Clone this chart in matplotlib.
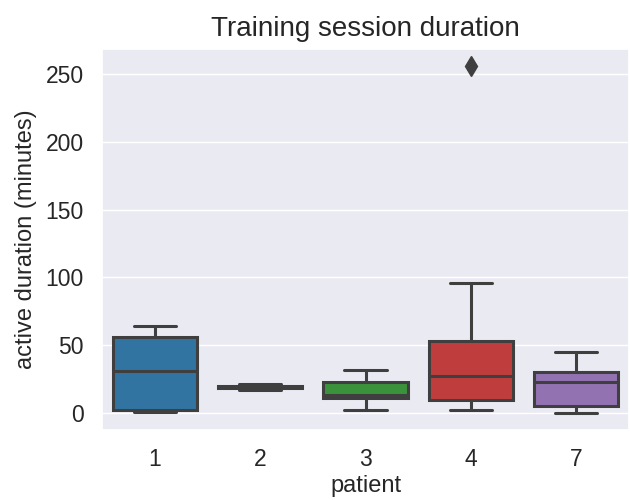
import matplotlib
matplotlib.use("Agg")
import matplotlib.pyplot as plt
import seaborn as sns

patients = ["1", "2", "3", "4", "7"]
whislo = [0.3, 17.0, 1.7, 1.7, 0.0]
q1 = [2.2, 18.3, 10.8, 9.6, 5.2]
med = [30.5, 19.0, 13.3, 27.3, 22.5]
q3 = [56.0, 20.0, 23.0, 53.3, 30.0]
whishi = [63.7, 21.0, 31.5, 95.9, 44.5]
fliers = [[], [], [], [256.0], []]
colors = ["#3274a1", "#e1812c", "#3a923a", "#c03d3e", "#9372b2"]

sns.set_theme(style="darkgrid")
plt.rcParams['font.family'] = ['Liberation Sans', 'DejaVu Sans']

fig = plt.figure(figsize=(6.3, 5.0), dpi=100)
ax = fig.add_axes([102/630, 70/500, 527/630, 381/500])

stats = []
for i, p in enumerate(patients):
    stats.append(dict(label=p, whislo=whislo[i], q1=q1[i], med=med[i],
                      q3=q3[i], whishi=whishi[i], fliers=fliers[i]))

gray = "#3f3f3f"
lw = 2.2
bp = ax.bxp(stats, positions=range(len(patients)), widths=0.8,
            patch_artist=True, showfliers=True,
            boxprops=dict(edgecolor=gray, linewidth=lw),
            medianprops=dict(color=gray, linewidth=lw),
            whiskerprops=dict(color=gray, linewidth=lw),
            capprops=dict(color=gray, linewidth=lw),
            flierprops=dict(marker='d', markerfacecolor=gray,
                            markeredgecolor=gray, markersize=10))
for patch, c in zip(bp['boxes'], colors):
    patch.set_facecolor(c)

ax.set_xlim(-0.5, len(patients) - 0.5)
ax.set_yticks([0, 50, 100, 150, 200, 250])
ax.set_xticks(range(len(patients)))
ax.set_xticklabels(patients)
ax.xaxis.grid(False)
ax.tick_params(labelsize=16.5, pad=7)
ax.set_xlabel("patient", fontsize=17, labelpad=3)
ax.set_ylabel("active duration (minutes)", fontsize=17, labelpad=6)
ax.set_title("Training session duration", fontsize=20, pad=9)

fig.savefig("out.png", dpi=100)
